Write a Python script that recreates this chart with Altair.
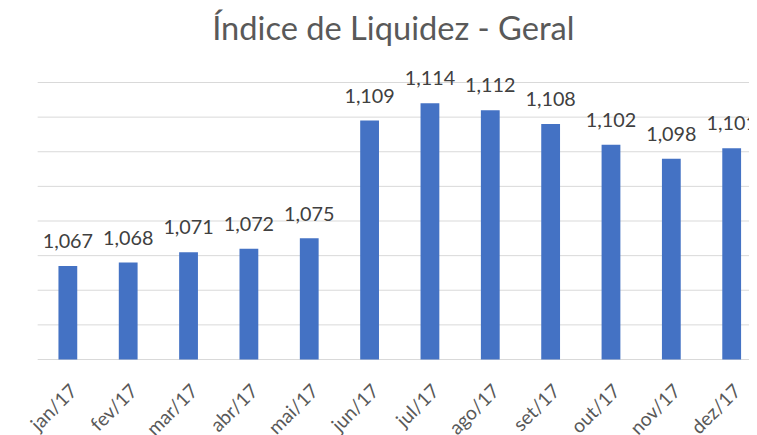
import altair as alt
import pandas as pd

months = ["jan/17", "fev/17", "mar/17", "abr/17", "mai/17", "jun/17",
          "jul/17", "ago/17", "set/17", "out/17", "nov/17", "dez/17"]
values = [1.067, 1.068, 1.071, 1.072, 1.075, 1.109,
          1.114, 1.112, 1.108, 1.102, 1.098, 1.101]
grid_values = [1.04, 1.05, 1.06, 1.07, 1.08, 1.09, 1.10, 1.11, 1.12]
y_min, y_max = 1.04, 1.12

df = pd.DataFrame({"mes": months, "valor": values})
grid_df = pd.DataFrame({"g": grid_values})

FONT = "Lato"

yscale = alt.Scale(domain=[y_min, y_max], nice=False, zero=False)

x = alt.X("mes:N", sort=months, title=None,
          scale=alt.Scale(paddingInner=0.6885, paddingOuter=0.2377, align=0.724),
          axis=alt.Axis(labelAngle=-45, labelFont=FONT, labelFontSize=19.5,
                        labelColor="#595959", ticks=False, domain=False,
                        labelPadding=22, grid=False))

grid = alt.Chart(grid_df).mark_rule(color="#d9d9d9", strokeWidth=1).encode(
    y=alt.Y("g:Q", scale=yscale, axis=None))

bars = alt.Chart(df).mark_bar(color="#4472C4").encode(
    x=x,
    y=alt.Y("valor:Q", scale=yscale, axis=None),
    y2=alt.Y2(datum=y_min))

labels = alt.Chart(df).transform_calculate(
    lbl="replace(format(datum.valor, '.3f'), '.', ',')"
).mark_text(font=FONT, fontSize=20, color="#404040", baseline="alphabetic",
            dy=-18).encode(x=alt.X("mes:N", sort=months),
                           y=alt.Y("valor:Q", scale=yscale, axis=None),
                           text="lbl:N")

chart = (grid + bars + labels).properties(
    width=719, height=280,
    title=alt.TitleParams("Índice de Liquidez - Geral", font=FONT,
                          fontSize=33, fontWeight="normal", color="#595959",
                          anchor="middle", baseline="alphabetic", offset=-3),
    autosize=alt.AutoSizeParams(type="none"),
    padding={"left": 30, "top": 73, "right": 0, "bottom": 74},
).configure_view(stroke=None)

chart.save("out.html", embed_options={"renderer": "svg", "actions": False})
